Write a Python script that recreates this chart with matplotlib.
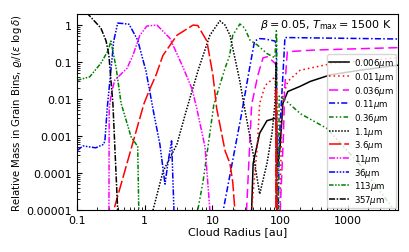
import numpy as np
import matplotlib
matplotlib.use("Agg")
import matplotlib.pyplot as plt

# grain sizes (legend labels)
sizes = ["0.006", "0.011", "0.036", "0.11", "0.36", "1.1", "3.6", "11", "36", "113", "357"]

# relative mass per bin vs cloud radius [au]
r_0006 = [37.5, 38, 40, 50, 64, 84, 88, 92, 100, 110, 130, 197, 280, 550, 1500, 5500]
m_0006 = [1e-7, 1e-5, 1.8e-4, 1.2e-3, 2.6e-3, 3e-3, 3e-3, 1.5e-4, 5e-4, 7.6e-3, 0.016, 0.022, 0.03, 0.045, 0.06, 0.082]

r_0011 = [37.5, 38, 46, 50, 60, 79, 86, 89, 95, 107, 130, 197, 610, 5500]
m_0011 = [1e-7, 1e-5, 5e-4, 7.6e-3, 0.023, 0.036, 0.04, 1e-7, 1e-7, 0.01, 0.03, 0.06, 0.093, 0.13]

r_0036 = [31.5, 32, 38, 47, 56, 66, 84, 88, 90, 112, 117, 128, 300, 1000, 5500]
m_0036 = [1e-7, 1e-5, 7e-3, 0.044, 0.13, 0.14, 0.093, 0.08, 1e-7, 1e-3, 0.02, 0.19, 0.21, 0.225, 0.245]

r_011 = [14.3, 14.5, 27, 36, 42, 50, 60, 84, 88, 90, 98, 112, 118, 300, 5500]
m_011 = [1e-7, 1e-5, 4e-3, 0.08, 0.37, 0.43, 0.42, 0.37, 0.3, 1e-7, 1e-3, 0.08, 0.46, 0.45, 0.42]

r_036 = [6.0, 6.1, 7.3, 8.6, 10.5, 15.4, 18, 20, 25.5, 30, 36, 46, 64, 84, 88, 89, 92, 97, 122, 200, 493, 1500, 4500]
m_036 = [1e-7, 1e-5, 6e-5, 5e-4, 7e-3, 0.068, 0.15, 0.53, 1.07, 0.83, 0.39, 0.29, 0.17, 0.13, 0.7, 0.6, 1e-7, 0.012, 0.009, 0.004, 0.0016, 1.7e-4, 1.2e-5]

r_11 = [1.25, 1.33, 1.87, 3.0, 4.2, 6.3, 9.2, 12.9, 15.4, 18.2, 21.5, 25.5, 30, 40, 50, 64, 76, 84, 87, 89]
m_11 = [1e-7, 1e-5, 1.1e-4, 6e-4, 5.5e-3, 0.068, 0.53, 1.3, 1.0, 0.53, 0.13, 0.03, 5.5e-3, 3.3e-4, 2.7e-5, 1.8e-4, 1.2e-3, 7.6e-3, 0.1, 1e-7]

r_36 = [0.34, 0.35, 0.98, 1.2, 1.47, 1.86, 3.0, 5.2, 6.1, 8.3, 10.2, 11.6, 15.4, 18.2, 20, 21.5, 22, 86, 88, 90]
m_36 = [1e-7, 1e-5, 7.6e-3, 0.019, 0.044, 0.15, 0.53, 1.0, 0.97, 0.37, 0.044, 5.5e-3, 4e-4, 1.8e-4, 5.7e-5, 1e-5, 1e-7, 1e-7, 0.02, 1e-7]

r_110 = [0.295, 0.30, 0.32, 0.36, 0.55, 0.67, 0.85, 1.08, 1.52, 2.36, 3.6, 5.0, 5.9, 7.8, 9.2, 9.4]
m_110 = [1e-7, 5.5e-3, 0.013, 0.032, 0.068, 0.15, 0.53, 0.94, 1.0, 0.44, 0.08, 0.019, 5.5e-3, 5e-4, 1e-5, 1e-7]

r_360 = [0.1, 0.123, 0.19, 0.25, 0.26, 0.28, 0.35, 0.40, 0.48, 0.59, 0.79, 1.05, 1.37, 1.68, 2.0, 2.2, 2.5, 2.7, 2.8]
m_360 = [4e-4, 5.4e-4, 4.8e-4, 6e-4, 8e-4, 5.5e-3, 0.37, 1.13, 1.1, 1.05, 0.39, 0.056, 4e-3, 6e-4, 5e-5, 1.8e-4, 7.4e-4, 1.2e-5, 1e-7]

r_1130 = [0.1, 0.155, 0.226, 0.287, 0.318, 0.38, 0.45, 0.63, 0.79, 0.82, 0.85]
m_1130 = [0.032, 0.04, 0.093, 0.2, 0.37, 0.068, 7.6e-3, 9.6e-4, 5.2e-4, 1e-5, 1e-7]

r_3570 = [0.1, 0.145, 0.226, 0.27, 0.297, 0.34, 0.40, 0.42]
m_3570 = [3.0, 2.0, 0.83, 0.37, 0.15, 7.6e-3, 1e-5, 1e-7]

radii = [r_0006, r_0011, r_0036, r_011, r_036, r_11, r_36, r_110, r_360, r_1130, r_3570]
masses = [m_0006, m_0011, m_0036, m_011, m_036, m_11, m_36, m_110, m_360, m_1130, m_3570]

colors = ["k", "r", "magenta", "b", "g", "k", "r", "magenta", "b", "g", "k"]
styles = ["-", (0, (1, 2)), (0, (6, 3)), (0, (4, 1.5, 1, 1.5)), (0, (3, 1.5, 1, 1.5, 1, 1.5)),
          (0, (1, 1)), (0, (8, 2)), (0, (4, 1, 1, 1, 1, 1)), (0, (4, 1, 1, 1, 1, 1, 1, 1)),
          (0, (3, 1, 1, 1, 1, 1)), (0, (4, 1, 1, 1))]

fig, ax = plt.subplots(figsize=(4.09, 2.53), dpi=100)
fig.subplots_adjust(left=0.188, right=0.973, top=0.941, bottom=0.166)

for r, m, c, ls, s in zip(radii, masses, colors, styles, sizes):
    ax.plot(r, m, color=c, ls=ls, lw=1.1, label=s + r"$\mu$m")

ax.set_xscale("log")
ax.set_yscale("log")
ax.set_xlim(0.1, 5500)
ax.set_ylim(1e-5, 2)

ax.set_xticks([0.1, 1, 10, 100, 1000], ["0.1", "1", "10", "100", "1000"])
ax.set_yticks([1e-5, 1e-4, 1e-3, 1e-2, 0.1, 1], ["0.00001", "0.0001", "0.001", "0.01", "0.1", "1"])
ax.tick_params(which="both", direction="in", labelsize=8)

ax.set_xlabel("Cloud Radius [au]", fontsize=8, labelpad=1)
ax.set_ylabel(r"Relative Mass in Grain Bins, $\varrho_i/(\epsilon\ \log\delta)$", fontsize=7.3, labelpad=2)

ax.text(0.98, 0.985, r"$\beta = 0.05$, $T_{\rm max} = 1500$ K", transform=ax.transAxes,
        ha="right", va="top", fontsize=8)

ax.legend(loc="lower right", fontsize=6.2, handlelength=2.3, labelspacing=0.08,
          borderaxespad=0.2, borderpad=0.25, handletextpad=0.6)

fig.savefig("out.png", dpi=100)
